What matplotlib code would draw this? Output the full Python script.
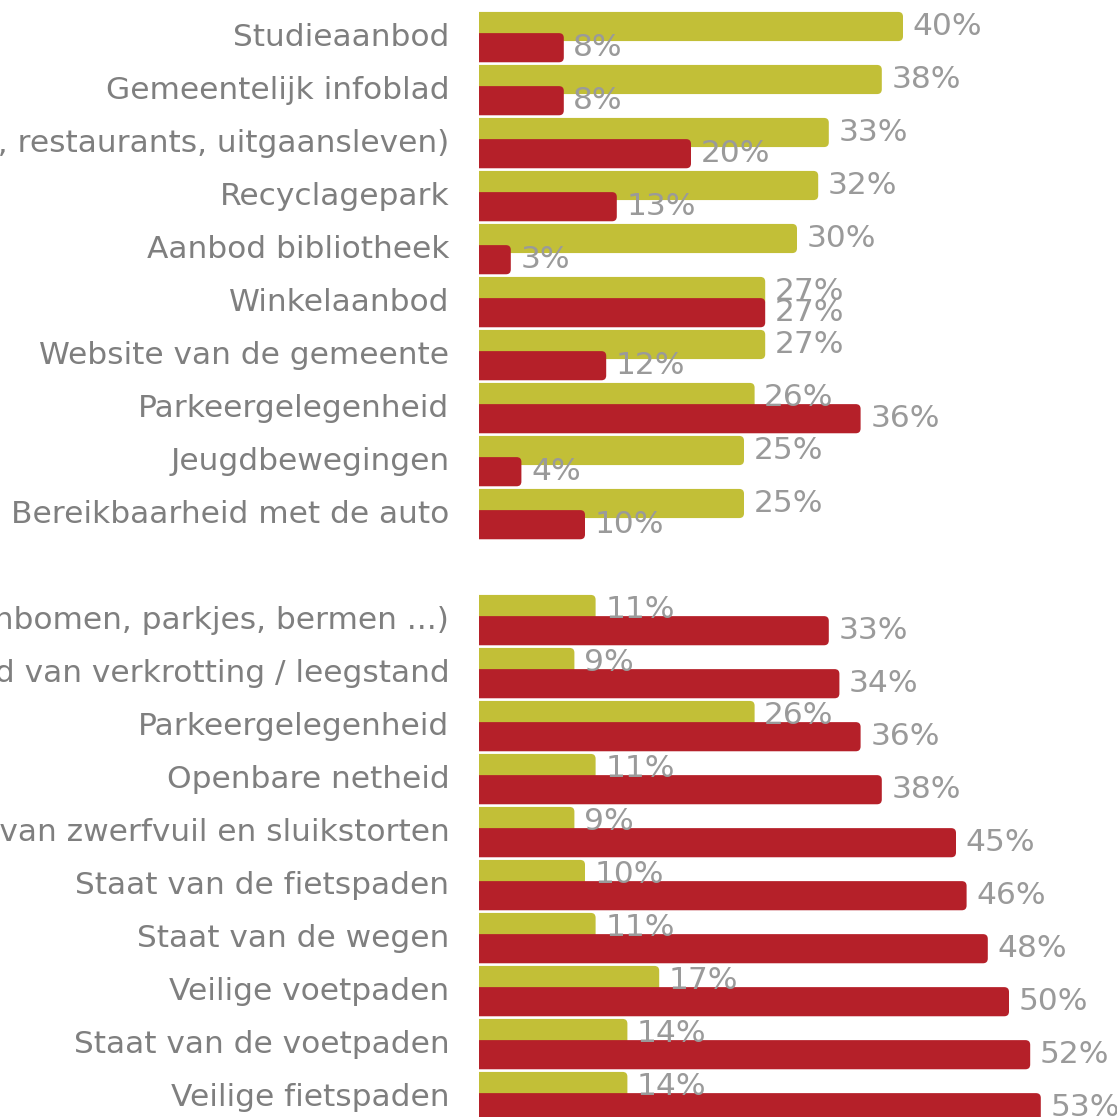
import matplotlib.pyplot as plt
from matplotlib.patches import FancyBboxPatch

# data
labels_top = ['Studieaanbod', 'Gemeentelijk infoblad',
              'Horeca (cafés, restaurants, uitgaansleven)', 'Recyclagepark',
              'Aanbod bibliotheek', 'Winkelaanbod', 'Website van de gemeente',
              'Parkeergelegenheid', 'Jeugdbewegingen', 'Bereikbaarheid met de auto']
olive_top = [40, 38, 33, 32, 30, 27, 27, 26, 25, 25]
red_top = [8, 8, 20, 13, 3, 27, 12, 36, 4, 10]

labels_bottom = ['Openbaar groen (laanbomen, parkjes, bermen ...)',
                 'Aanpak en beleid van verkrotting / leegstand',
                 'Parkeergelegenheid', 'Openbare netheid',
                 'Aanpak van zwerfvuil en sluikstorten', 'Staat van de fietspaden',
                 'Staat van de wegen', 'Veilige voetpaden',
                 'Staat van de voetpaden', 'Veilige fietspaden']
olive_bottom = [11, 9, 26, 11, 9, 10, 11, 17, 14, 14]
red_bottom = [33, 34, 36, 38, 45, 46, 48, 50, 52, 53]

OLIVE = '#c2bf37'
RED = '#b52029'
LABEL_GREY = '#7f7f7f'
VALUE_GREY = '#9a9a9a'
FONT = 'DejaVu Sans'

labels = labels_top + labels_bottom
olive = olive_top + olive_bottom
red = red_top + red_bottom
# row slots: one empty slot between the two groups
rows = list(range(10)) + list(range(11, 21))

W = 1117
fig = plt.figure(figsize=(W / 100, W / 100), dpi=100)
left = 479 / W
ax = fig.add_axes([left, 0, 1 - left, 1])
px_per_pct = 10.6
ax.set_xlim(0, (W - 479) / px_per_pct)
ax.set_ylim(W / 53, 0)
ax.axis('off')


def rounded(bars, color, z):
    # swap the plain rectangles for ones with a rounded right end
    for p in bars.patches:
        x, y, w, h = p.get_x(), p.get_y(), p.get_width(), p.get_height()
        p.set_visible(False)
        ax.add_patch(FancyBboxPatch((x - 1, y), w + 1, h,
                                    boxstyle='round,pad=0,rounding_size=0.45',
                                    mutation_aspect=10.6 / 53,
                                    fc=color, ec='none', zorder=z))


for r, lab, o, rd in zip(rows, labels, olive, red):
    rounded(ax.barh(r + 0.5, o, height=0.55, color=OLIVE), OLIVE, 2)
    rounded(ax.barh(r + 0.9, rd, height=0.55, color=RED), RED, 3)
    ax.text(o + 0.9, r + 0.5, f'{o}%', va='center', ha='left', fontsize=22.5,
            color=VALUE_GREY, family=FONT, zorder=4)
    ax.text(rd + 0.9, r + 0.9, f'{rd}%', va='center', ha='left', fontsize=22.5,
            color=VALUE_GREY, family=FONT, zorder=4)
    ax.text(-2.8, r + 0.7, lab, va='center', ha='right', fontsize=22.5,
            color=LABEL_GREY, family=FONT, clip_on=False)

fig.savefig('out.png', dpi=100)
